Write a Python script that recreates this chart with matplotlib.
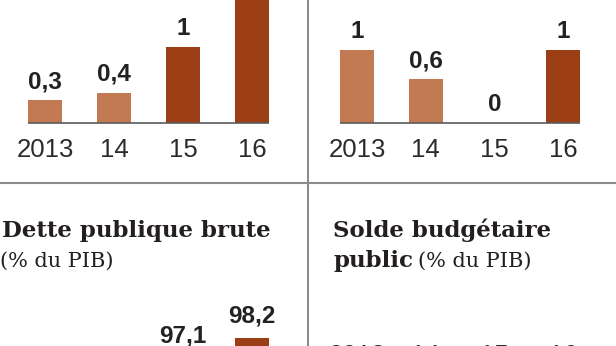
import matplotlib
matplotlib.use('Agg')
import matplotlib.pyplot as plt
from matplotlib import font_manager
from matplotlib.lines import Line2D

# ------------------------------------------------------------
# data
# ------------------------------------------------------------
years = ['2013', '14', '15', '16']
croissance = [0.3, 0.4, 1.0, 1.7]      # 2016 label is cut off in the source
inflation = [1.0, 0.6, 0.0, 1.0]
dette = [92.3, 95.0, 97.1, 98.2]       # only 97,1 and 98,2 are visible
solde = [-4.1, -4.0, -3.8, -3.5]       # only the year labels are visible

LIGHT = '#C27A52'
DARK = '#9B3D15'
bar_colors = [LIGHT, LIGHT, DARK, DARK]

W, H = 616, 346


def pick_font(names):
    for name in names:
        try:
            font_manager.findfont(font_manager.FontProperties(family=name),
                                  fallback_to_default=False)
            return name
        except Exception:
            pass
    return 'DejaVu Sans'


narrow = pick_font(['Liberation Sans Narrow', 'Liberation Sans'])
sans = pick_font(['Liberation Sans', 'DejaVu Sans'])
serif = 'DejaVu Serif'


def fmt(v):
    return f'{v:g}'.replace('.', ',')


fig = plt.figure(figsize=(W / 100, H / 100), dpi=100)
fig.patch.set_facecolor('white')


def px_axes(left, top, width, height):
    return fig.add_axes([left / W, 1 - (top + height) / H, width / W, height / H])


def bar_panel(ax, values, ylim, gap=12, ticks_on_top=False, baseline=True,
              ticks=True):
    x = list(range(len(values)))
    w = 34 / 69
    ax.bar(x, values, width=w, color=bar_colors)
    if baseline:
        ax.hlines(0, x[0] - w / 2, x[-1] + w / 2, color='#5a5a5a', lw=1.2,
                  clip_on=False, zorder=3)
    ax.set_xlim(-0.5, len(values) - 0.5)
    ax.set_ylim(*ylim)
    if ticks:
        ax.set_xticks(x, years)
    else:
        ax.set_xticks([])
    ax.set_yticks([])
    for s in ax.spines.values():
        s.set_visible(False)
    ax.patch.set_alpha(0)
    if ticks_on_top:
        ax.xaxis.tick_top()
    ax.tick_params(axis='x', length=0, pad=11, labelsize=18.5, labelcolor='#2b2b2b')
    for lab in ax.get_xticklabels():
        lab.set_fontfamily(narrow)
    # value labels above the bars, only those that land inside the picture
    for xi, v in zip(x, values):
        if v < 0:
            continue
        ydisp = ax.transData.transform((xi, v))[1] + gap
        if ydisp + 20 < 0 or ydisp > H:
            continue
        ax.annotate(fmt(v), (xi, v), xytext=(0, gap), textcoords='offset pixels',
                    ha='center', va='baseline',
                    fontsize=17.5, fontweight='bold', family=sans,
                    color='#222222', annotation_clip=False)


# top left: croissance
ax1 = px_axes(10.5, 0, 276, 123)
bar_panel(ax1, croissance, (0, 123 / 76))

# top right: inflation
ax2 = px_axes(322.6, 0, 275.2, 123)
bar_panel(ax2, inflation, (0, 123 / 73))

# bottom left: dette publique (truncated view)
ax3 = px_axes(10.5, 290, 276, 56)
scale = 18.2
bar_panel(ax3, dette, (dette[-1] - 8 / scale, dette[-1] + 48 / scale),
          gap=16, baseline=False, ticks=False)

# bottom right: solde budgetaire (only year labels show)
ax4 = px_axes(322.6, 383, 275.2, 100)
bar_panel(ax4, solde, (-5, 0), ticks_on_top=True)

# dividers
fig.add_artist(Line2D([307.5 / W] * 2, [0, 1], color='#8c8c8c', lw=1.5))
fig.add_artist(Line2D([0, 1], [1 - 182.5 / H] * 2, color='#8c8c8c', lw=1.5))

# titles
tcol = '#231f20'
fig.text(2 / W, 1 - 237 / H, 'Dette publique brute', family=serif,
         fontweight='bold', fontsize=16.5, color=tcol, va='baseline')
fig.text(0 / W, 1 - 267 / H, '(% du PIB)', family=serif,
         fontsize=15, color=tcol, va='baseline')
fig.text(333 / W, 1 - 237 / H, 'Solde budgétaire', family=serif,
         fontweight='bold', fontsize=16.5, color=tcol, va='baseline')
pub = fig.text(333 / W, 1 - 267 / H, 'public', family=serif,
               fontweight='bold', fontsize=16.5, color=tcol, va='baseline')
fig.canvas.draw()
bb = pub.get_window_extent()
fig.text((bb.x1 + 5) / W, 1 - 267 / H, '(% du PIB)', family=serif,
         fontsize=15, color=tcol, va='baseline')

fig.savefig('out.png', dpi=100)
